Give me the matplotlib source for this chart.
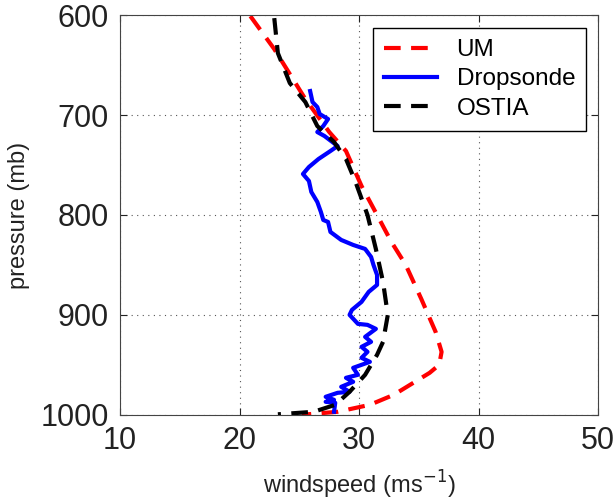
"""Windspeed profiles: UM and OSTIA model runs against the dropsonde."""
import matplotlib
matplotlib.use('Agg')
import matplotlib.pyplot as plt

###################################################################################################
# Profile data (windspeed in m/s, pressure in mb)
###################################################################################################
um_speed = [20.9, 22.9, 25.5, 27.5, 28.9, 30.2, 31.5, 32.7, 33.9, 35.2, 36.4, 36.9, 36.7,
            35.9, 32.9, 30.9, 28.2, 25.2]
um_pres = [601, 634, 684, 717, 736, 771, 800, 827, 850, 884, 917, 937, 950,
           958, 980, 990, 997, 1000]

ostia_speed = [22.9, 23.2, 24.2, 25.5, 26.5, 27.9, 28.9, 29.7, 30.7, 31.4, 32.0, 32.4, 32.0,
               31.5, 30.5, 29.2, 28.0, 26.2, 23.2]
ostia_pres = [603, 638, 668, 687, 711, 727, 744, 767, 800, 834, 867, 900, 927,
              940, 960, 977, 990, 997, 999.5]

drop_speed = [25.9, 26.1, 26.5, 26.7, 27.4, 27.0, 26.5, 27.1, 28.2, 27.6, 26.6, 25.8, 25.3,
              25.8, 26.0, 26.5, 26.8, 27.0, 27.4, 27.6, 28.5, 29.5, 30.5, 31.0, 31.2, 31.5,
              31.5, 30.8, 30.2, 29.4, 29.2, 29.9, 30.7, 31.4, 30.5, 31.0, 30.2, 30.7, 30.2,
              30.9, 29.5, 29.9, 28.9, 29.5, 28.5, 29.2, 28.2, 27.2, 27.9, 27.2, 28.0, 27.9]
drop_pres = [676, 687, 692, 699, 704, 711, 717, 721, 731, 736, 744, 752, 759,
             766, 777, 787, 797, 805, 807, 817, 825, 830, 834, 842, 850, 860,
             870, 877, 887, 895, 900, 909, 910, 914, 922, 927, 932, 937, 943,
             947, 953, 960, 963, 967, 972, 977, 978, 982, 985, 987, 988, 997]

x_ticks = [10, 20, 30, 40, 50]
y_ticks = [600, 700, 800, 900, 1000]

plt.rcParams['font.family'] = ['Liberation Sans', 'DejaVu Sans']

fig = plt.figure(figsize=(6.16, 5.04), dpi=100)
ax = fig.add_axes([0.195, 0.177, 0.776, 0.793])

ax.plot(um_speed, um_pres, color='#ff0000', lw=3, dashes=(4, 2.5), label='UM')
ax.plot(drop_speed, drop_pres, color='#0000ff', lw=3, label='Dropsonde')
ax.plot(ostia_speed, ostia_pres, color='black', lw=3, dashes=(4, 2.5), label='OSTIA')

ax.set_xlim(10, 50)
ax.set_ylim(1000, 600)
ax.set_xticks(x_ticks)
ax.set_yticks(y_ticks)
ax.tick_params(direction='in', top=True, right=True, labelsize=22, length=5, pad=8,
               colors='#222222')
ax.grid(True, linestyle=(0, (1, 4)), color='#555555', lw=0.8)
for spine in ax.spines.values():
    spine.set_color('#444444')

ax.set_xlabel('windspeed (ms$^{-1}$)', fontsize=17, color='#222222', labelpad=9)
ax.set_ylabel('pressure (mb)', fontsize=17, color='#222222', labelpad=8)

leg = ax.legend(loc='upper right', fontsize=17.5, fancybox=False, framealpha=1,
                edgecolor='black', handlelength=2.2, handletextpad=0.8, borderpad=0.45,
                labelspacing=0.3, borderaxespad=0, bbox_to_anchor=(0.975, 0.9675))
leg.get_frame().set_linewidth(1.0)

fig.savefig('out.png', dpi=100)
